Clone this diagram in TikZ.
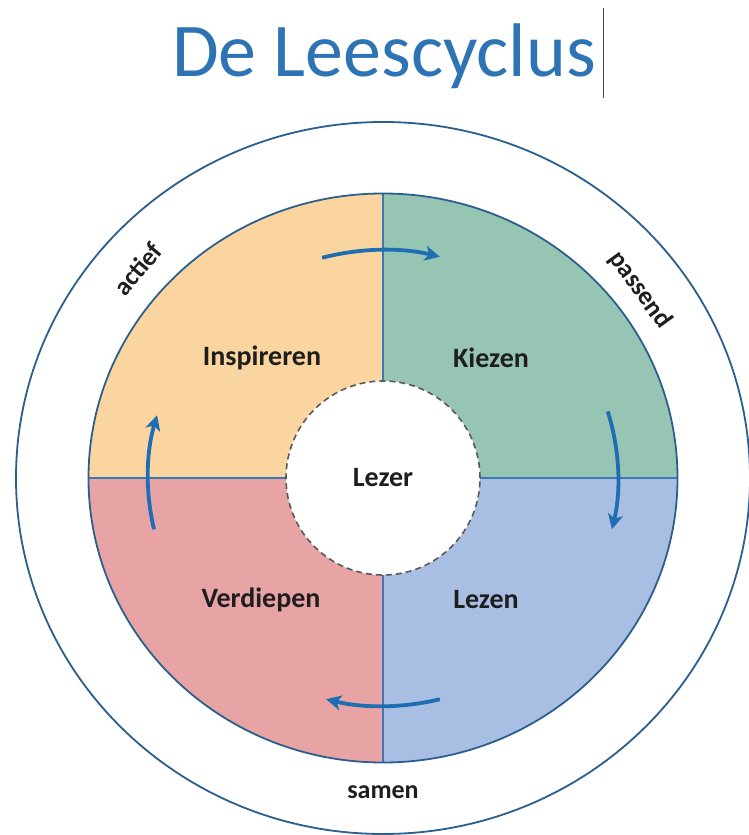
\documentclass[tikz,border=0pt]{standalone}
\usepackage{fontspec}
\setmainfont{Carlito}
\usetikzlibrary{arrows.meta}
\definecolor{ttl}{HTML}{2E74B5}
\definecolor{rim}{HTML}{2B5F8E}
\definecolor{divc}{HTML}{3A78B8}
\definecolor{arr}{HTML}{1F6DB3}
\definecolor{cinsp}{HTML}{FBD59F}
\definecolor{ckiez}{HTML}{96C6B3}
\definecolor{cverd}{HTML}{E8A3A5}
\definecolor{clez}{HTML}{A9BEE3}
\definecolor{txt}{HTML}{1E1E1E}
\tikzset{
  lbl/.style={font=\fontsize{28}{30}\selectfont\bfseries, text=txt},
  ringlbl/.style={font=\fontsize{26}{28}\selectfont\bfseries, text=txt, inner sep=1pt},
  cyc/.style={draw=arr, line width=3.8pt, -{Stealth[length=15pt,width=15pt,inset=4pt]}},
  rimline/.style={draw=rim, line width=1.8pt},
}
\begin{document}
\begin{tikzpicture}[x=1pt,y=1pt]
\useasboundingbox (-383,-357) rectangle (366,478);
\fill[white] (-383,-357) rectangle (366,478);
% title
\node[font=\fontsize{76}{80}\selectfont, text=ttl, anchor=base] (title) at (1,401) {De Leescyclus};
\draw[black!70, line width=1pt] (220,470) -- (220,380);
% outer ring
\draw[rimline] (0,0) ellipse [x radius=367pt, y radius=356pt];
% quadrants
\fill[cinsp] (0,0) -- (0,284.5) arc[start angle=90, end angle=180, x radius=294.5pt, y radius=284.5pt] -- cycle;
\fill[ckiez] (0,0) -- (294.5,0) arc[start angle=0, end angle=90, x radius=294.5pt, y radius=284.5pt] -- cycle;
\fill[clez] (0,0) -- (0,-284.5) arc[start angle=-90, end angle=0, x radius=294.5pt, y radius=284.5pt] -- cycle;
\fill[cverd] (0,0) -- (-294.5,0) arc[start angle=180, end angle=270, x radius=294.5pt, y radius=284.5pt] -- cycle;
\draw[divc, line width=1.8pt] (0,284.5) -- (0,-284.5);
\draw[divc, line width=1.8pt] (-294.5,0) -- (294.5,0);
\draw[rimline] (0,0) ellipse [x radius=294.5pt, y radius=284.5pt];
% centre
\node[circle, minimum size=194pt, inner sep=0pt, fill=white, draw=black!65, dashed, dash pattern=on 6pt off 4pt, line width=1.6pt] (lezer) at (0,0) {};
\node[lbl] at (lezer.center) {Lezer};
% arrows
\draw[cyc] (105:235pt and 228pt) arc[start angle=105, end angle=76, x radius=235pt, y radius=228pt];
\draw[cyc] (17:235pt and 228pt) arc[start angle=17, end angle=-13, x radius=235pt, y radius=228pt];
\draw[cyc] (-76:235pt and 228pt) arc[start angle=-76, end angle=-104, x radius=235pt, y radius=228pt];
\draw[cyc] (193:235pt and 228pt) arc[start angle=193, end angle=164, x radius=235pt, y radius=228pt];
% labels
\node[lbl] (insp) at (-121,120) {Inspireren};
\node[lbl] (kiez) at (108,120) {Kiezen};
\node[lbl] (verd) at (-122,-122) {Verdiepen};
\node[lbl] (leze) at (103,-122) {Lezen};
\node[ringlbl] (samen) at (0,-314) {samen};
\node[ringlbl, rotate=50] (actief) at (-245,209) {actief};
\node[ringlbl, rotate=-54] (passend) at (257,188) {passend};
\end{tikzpicture}
\end{document}
